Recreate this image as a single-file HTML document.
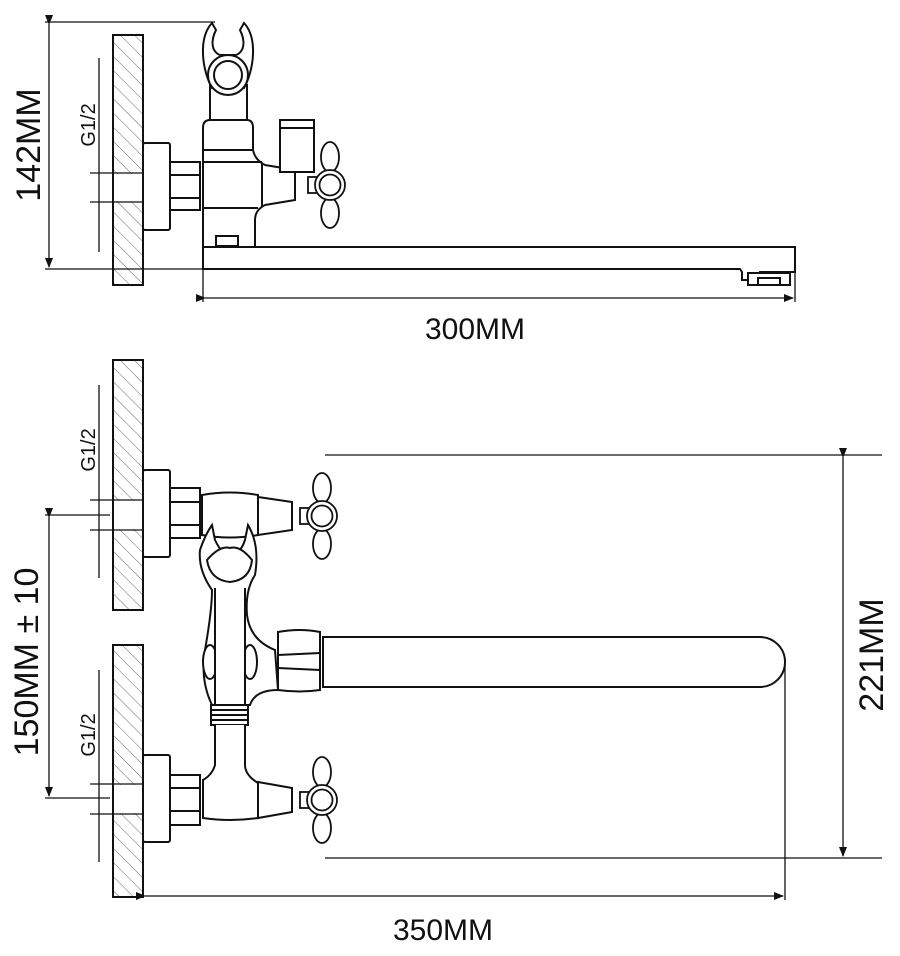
<!DOCTYPE html>
<html><head><meta charset="utf-8"><style>html,body{margin:0;padding:0;background:#fff}svg{display:block}</style></head>
<body>
<svg width="900" height="956" viewBox="0 0 900 956" xmlns="http://www.w3.org/2000/svg">
<defs>
<pattern id="h" patternUnits="userSpaceOnUse" width="10" height="10" patternTransform="rotate(-45)">
<line x1="0" y1="0" x2="0" y2="10" stroke="#444" stroke-width="0.8"/>
</pattern>
<g id="cross" fill="#fff" stroke="#111" stroke-width="1.8">
<rect x="-22" y="-8" width="9" height="16"/>
<ellipse cx="0" cy="-28" rx="9" ry="15"/>
<ellipse cx="0" cy="28" rx="9" ry="15"/>
<circle r="15"/>
<circle r="10.5"/>
</g>
<marker id="a" markerWidth="10" markerHeight="8" refX="9" refY="4" orient="auto" markerUnits="userSpaceOnUse"><path d="M0,0L10,4L0,8z" fill="#111"/></marker>
</defs>
<g font-family="Liberation Sans, sans-serif" fill="#111">
<text transform="translate(40,145) rotate(-90)" font-size="34" text-anchor="middle">142MM</text>
<text transform="translate(95,125) rotate(-90)" font-size="20" text-anchor="middle">G1/2</text>
<text x="475" y="339" font-size="30" text-anchor="middle">300MM</text>
<text transform="translate(95,450) rotate(-90)" font-size="20" text-anchor="middle">G1/2</text>
<text transform="translate(95,735) rotate(-90)" font-size="20" text-anchor="middle">G1/2</text>
<text transform="translate(38,662) rotate(-90)" font-size="34" text-anchor="middle">150MM ± 10</text>
<text transform="translate(883,655) rotate(-90)" font-size="34" text-anchor="middle">221MM</text>
<text x="443" y="940" font-size="30" text-anchor="middle">350MM</text>
</g>
<g stroke="#111" stroke-width="2" fill="url(#h)">
<rect x="113" y="35" width="30" height="250"/>
<rect x="113" y="360" width="30" height="250"/>
<rect x="113" y="645" width="30" height="252"/>
</g>
<g fill="#fff" stroke="none">
<rect x="114" y="174" width="28" height="27"/>
<rect x="114" y="501" width="28" height="28"/>
<rect x="114" y="785" width="28" height="28"/>
</g>
<g fill="none" stroke="#111" stroke-width="1.3">
<line x1="45" y1="22" x2="215" y2="22"/><line x1="45" y1="269" x2="203" y2="269"/>
<line x1="49" y1="24" x2="49" y2="267" marker-start="url(#a)" marker-end="url(#a)"/>
<line x1="203" y1="269" x2="203" y2="302"/><line x1="795" y1="269" x2="795" y2="302"/>
<line x1="205" y1="298" x2="793" y2="298" marker-start="url(#a)" marker-end="url(#a)"/>
<line x1="99" y1="58" x2="99" y2="252"/>
<line x1="90" y1="173" x2="143" y2="173"/><line x1="90" y1="202" x2="143" y2="202"/>
<line x1="99" y1="385" x2="99" y2="578"/>
<line x1="90" y1="500" x2="143" y2="500"/><line x1="90" y1="530" x2="143" y2="530"/>
<line x1="99" y1="670" x2="99" y2="862"/>
<line x1="90" y1="784" x2="143" y2="784"/><line x1="90" y1="814" x2="143" y2="814"/>
<line x1="45" y1="515" x2="110" y2="515"/><line x1="45" y1="798" x2="110" y2="798"/>
<line x1="49" y1="517" x2="49" y2="796" marker-start="url(#a)" marker-end="url(#a)"/>
<line x1="325" y1="455" x2="882" y2="455"/><line x1="325" y1="858" x2="882" y2="858"/>
<line x1="843" y1="457" x2="843" y2="856" marker-start="url(#a)" marker-end="url(#a)"/>
<line x1="785" y1="665" x2="785" y2="900"/>
<line x1="145" y1="896" x2="783" y2="896" marker-start="url(#a)" marker-end="url(#a)"/>
</g>
<g stroke="#111" stroke-width="2" fill="#fff">
<rect x="143" y="143" width="27" height="87" rx="2"/>
<rect x="170" y="162" width="30" height="48"/>
<line x1="170" y1="175" x2="200" y2="175"/><line x1="170" y1="198" x2="200" y2="198"/>
<rect x="210" y="85" width="37" height="37"/>
<path d="M212,23 C198,38 202,70 212,88 L244,88 C254,70 258,38 244,23 L240,30 C246,42 244,52 236,55 L220,55 C212,52 210,42 216,30 Z"/>
<circle cx="228" cy="75" r="20"/><circle cx="228" cy="75" r="14"/>
<path d="M203,128 Q203,120 210,120 L247,120 Q253,120 253,128 L253,150 Q255,160 265,165 L295,170 L295,200 L265,205 Q255,210 255,220 L255,248 L203,248 Z"/>
<line x1="203" y1="150" x2="253" y2="150"/><line x1="203" y1="162" x2="262" y2="162"/><line x1="203" y1="208" x2="258" y2="208"/>
<line x1="262" y1="163" x2="262" y2="207"/>
<rect x="280" y="120" width="34" height="52"/>
<rect x="280" y="120" width="34" height="8"/>
<rect x="216" y="236" width="22" height="10"/>
<path d="M203,247 L795,247 L795,272 L760,272 L760,280 L742,280 L742,272 L740,269 L203,269 Z"/>
<rect x="748" y="273" width="42" height="12"/>
<rect x="758" y="278" width="22" height="7"/>
<use href="#cross" x="330" y="185"/>
<rect x="143" y="470" width="27" height="87" rx="2"/>
<rect x="170" y="488" width="30" height="50"/>
<line x1="170" y1="502" x2="200" y2="502"/><line x1="170" y1="525" x2="200" y2="525"/>
<path d="M202,495 Q230,490 258,495 L258,535 Q230,540 202,535 Z"/>
<path d="M258,497 L292,502 L292,530 L258,535 Z"/>
<use href="#cross" x="322" y="516"/>
<path d="M247,615 Q250,640 275,650 L278,690 Q255,690 250,705 L212,705 Q200,680 205,650 Q212,610 212,590 Q198,570 200,550 Q205,535 212,525 L215,540 Q222,555 230,555 Q240,555 245,540 L248,525 Q260,545 255,575 Q245,590 247,615 Z"/>
<path d="M207,560 Q220,545 230,548 Q240,545 252,560 Q250,580 230,582 Q210,580 207,560 Z"/>
<ellipse cx="210" cy="662" rx="7" ry="17"/><ellipse cx="250" cy="662" rx="7" ry="17"/>
<path d="M215,588 L215,710 L245,710 L245,588"/>
<rect x="211" y="705" width="37" height="20"/>
<line x1="211" y1="710" x2="248" y2="710"/><line x1="211" y1="715" x2="248" y2="715"/><line x1="211" y1="720" x2="248" y2="720"/>
<path d="M323,637 L760,637 A25,25 0 0 1 760,687 L323,687 Z"/>
<path d="M278,632 Q300,628 320,632 L320,690 Q300,693 278,690 Z"/>
<line x1="278" y1="655" x2="320" y2="653"/><line x1="278" y1="668" x2="320" y2="670"/>
<rect x="143" y="755" width="27" height="87" rx="2"/>
<rect x="170" y="775" width="30" height="50"/>
<line x1="170" y1="788" x2="200" y2="788"/><line x1="170" y1="811" x2="200" y2="811"/>
<path d="M215,725 L215,765 Q212,775 203,780 L203,818 Q230,822 258,818 L258,783 Q245,775 245,765 L245,725"/>
<path d="M258,782 L292,788 L292,812 L258,818 Z"/>
<use href="#cross" x="322" y="800"/>
</g>
</svg>
</body></html>
